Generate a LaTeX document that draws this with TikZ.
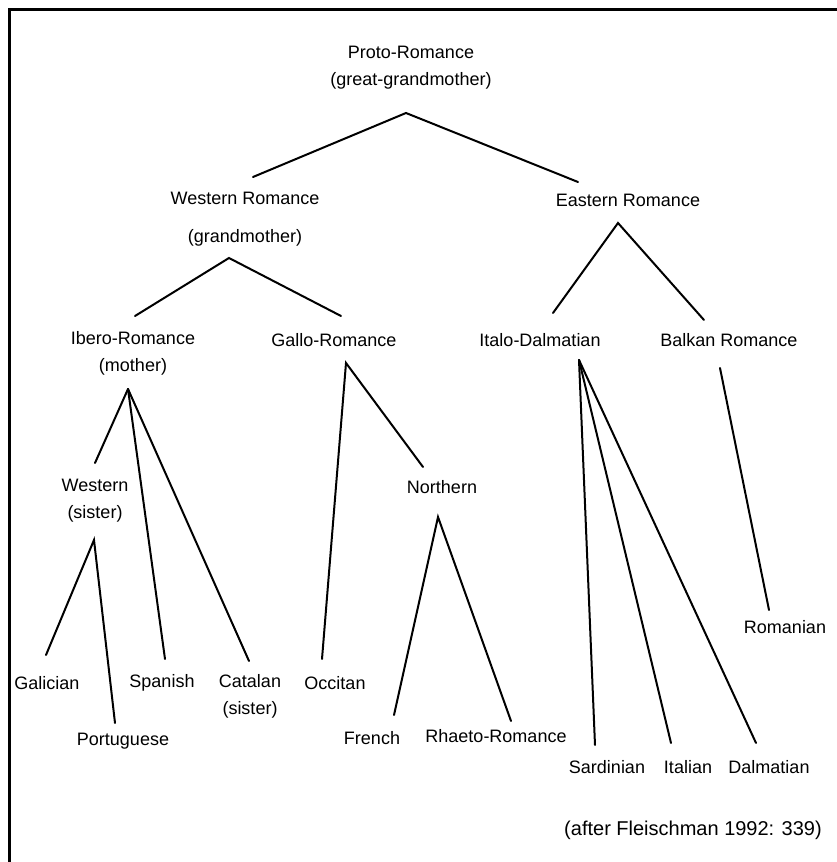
\documentclass[tikz,border=0pt]{standalone}
\usepackage{fontspec}
\setmainfont{Liberation Sans}
\usepackage{tikz}
\usetikzlibrary{calc}

\begin{document}
\begin{tikzpicture}[
        x=1pt, y=1pt,
        lang/.style={inner sep=0pt, align=center, font=\fontsize{18}{27}\selectfont},
        branch/.style={line width=2pt, line cap=round},
        frame/.style={line width=3pt}
      ]
      \useasboundingbox (0,0) rectangle (837,862);
      \draw[frame] (837,852) -- (9,852) -- (9,0);

      % top levels
      \node[lang] (proto)  at (411,794)   {Proto-Romance\\(great-grandmother)};
      \node[lang] (wr)     at (245,643)   {Western Romance\\[11pt](grandmother)};
      \node[lang] (er)     at (628,662)   {Eastern Romance};
      \node[lang] (ibero)  at (133,508.5) {Ibero-Romance\\(mother)};
      \node[lang] (gallo)  at (334,522)   {Gallo-Romance};
      \node[lang] (italo)  at (540,522)   {Italo-Dalmatian};
      \node[lang] (balkan) at (729,522)   {Balkan Romance};
      \node[lang] (western)  at (95,361)  {Western\\(sister)};
      \node[lang] (northern) at (442,375) {Northern};

      % languages
      \node[lang] (galician)   at (47,179)  {Galician};
      \node[lang] (spanish)    at (162,179) {Spanish};
      \node[lang] (catalan)    at (250,166) {Catalan\\(sister)};
      \node[lang] (occitan)    at (335,179) {Occitan};
      \node[lang] (portuguese) at (123,121) {Portuguese};
      \node[lang] (french)     at (372,124) {French};
      \node[lang] (rhaeto)     at (496,126) {Rhaeto-Romance};
      \node[lang] (romanian)   at (785,235) {Romanian};
      \node[lang] (sardinian)  at (607,95)  {Sardinian};
      \node[lang] (italian)    at (688,95)  {Italian};
      \node[lang] (dalmatian)  at (769,95)  {Dalmatian};

      \node[lang, font=\fontsize{20}{24}\selectfont] (source) at (693,32)
        {(after Fleischman 1992: 339)};

      \draw[branch] ($(wr)+(8,42)$) -- ($(proto)+(-5,-45)$) -- ($(er)+(-50,18)$);
      \draw[branch] ($(ibero)+(2,37.5)$) -- ($(wr)+(-16,-39)$) -- ($(gallo)+(7,24)$);
      \draw[branch] ($(italo)+(13,27)$) -- ($(er)+(-10,-23)$) -- ($(balkan)+(-25,20)$);

      \draw[branch] ($(ibero)+(-5,-35.5)$) -- ($(western)+(0,38)$);
      \draw[branch] ($(ibero)+(-5,-35.5)$) -- ($(spanish)+(3,24)$);
      \draw[branch] ($(ibero)+(-5,-35.5)$) -- ($(catalan)+(-1,35)$);

      \draw[branch] ($(occitan)+(-13,24)$) -- ($(gallo)+(12,-23)$) -- ($(northern)+(-19,20)$);
      \draw[branch] ($(galician)+(-1,28)$) -- ($(western)+(-1,-39)$) -- ($(portuguese)+(-8,18)$);
      \draw[branch] ($(french)+(22,23)$) -- ($(northern)+(-4,-30)$) -- ($(rhaeto)+(15,15)$);

      \draw[branch] ($(italo)+(39,-20)$) -- ($(sardinian)+(-12,22)$);
      \draw[branch] ($(italo)+(39,-20)$) -- ($(italian)+(-17,24)$);
      \draw[branch] ($(italo)+(39,-20)$) -- ($(dalmatian)+(-13,24)$);

      \draw[branch] ($(balkan)+(-9,-28)$) -- ($(romanian)+(-16,17)$);
    \end{tikzpicture}
\end{document}
